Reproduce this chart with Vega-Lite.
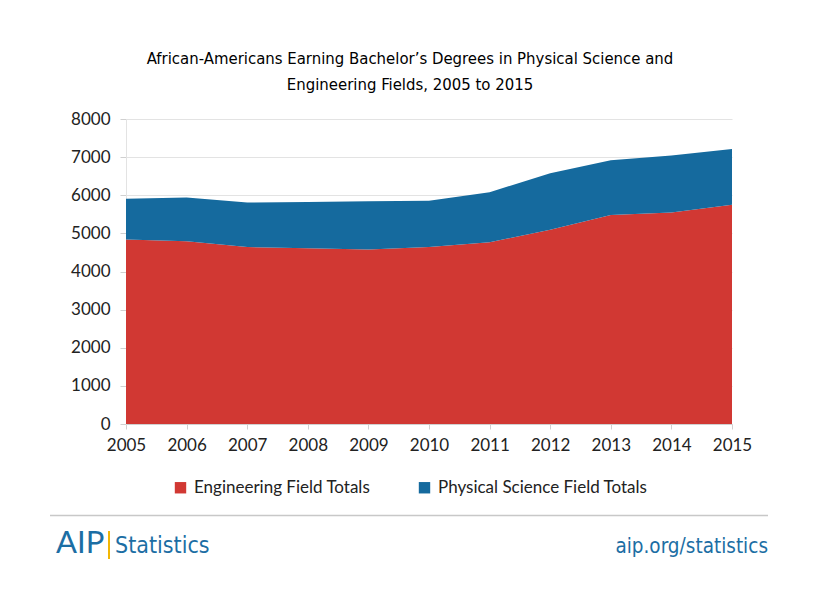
{
  "$schema": "https://vega.github.io/schema/vega-lite/v6.json",
  "width": 606,
  "height": 305,
  "autosize": {"type": "none"},
  "padding": {"left": 126, "top": 119, "right": 88, "bottom": 172},
  "background": "white",
  "config": {"view": {"stroke": null}},
  "title": {
    "text": ["African-Americans Earning Bachelor’s Degrees in Physical Science and", "Engineering Fields, 2005 to 2015"],
    "anchor": "middle",
    "dx": -19,
    "offset": 16,
    "font": "Liberation Sans Narrow, DejaVu Sans Condensed, Roboto, sans-serif",
    "fontSize": 16.6,
    "fontWeight": 500,
    "lineHeight": 26,
    "color": "#000000"
  },
  "layer": [
    {
      "data": {
        "values": [
          {"year": 2005, "series": "Engineering Field Totals", "value": 4840},
          {"year": 2006, "series": "Engineering Field Totals", "value": 4795},
          {"year": 2007, "series": "Engineering Field Totals", "value": 4640},
          {"year": 2008, "series": "Engineering Field Totals", "value": 4610},
          {"year": 2009, "series": "Engineering Field Totals", "value": 4575},
          {"year": 2010, "series": "Engineering Field Totals", "value": 4640},
          {"year": 2011, "series": "Engineering Field Totals", "value": 4770},
          {"year": 2012, "series": "Engineering Field Totals", "value": 5095},
          {"year": 2013, "series": "Engineering Field Totals", "value": 5485},
          {"year": 2014, "series": "Engineering Field Totals", "value": 5545},
          {"year": 2015, "series": "Engineering Field Totals", "value": 5750},
          {"year": 2005, "series": "Physical Science Field Totals", "value": 1065},
          {"year": 2006, "series": "Physical Science Field Totals", "value": 1145},
          {"year": 2007, "series": "Physical Science Field Totals", "value": 1170},
          {"year": 2008, "series": "Physical Science Field Totals", "value": 1210},
          {"year": 2009, "series": "Physical Science Field Totals", "value": 1270},
          {"year": 2010, "series": "Physical Science Field Totals", "value": 1215},
          {"year": 2011, "series": "Physical Science Field Totals", "value": 1310},
          {"year": 2012, "series": "Physical Science Field Totals", "value": 1485},
          {"year": 2013, "series": "Physical Science Field Totals", "value": 1435},
          {"year": 2014, "series": "Physical Science Field Totals", "value": 1495},
          {"year": 2015, "series": "Physical Science Field Totals", "value": 1465}
        ]
      },
      "mark": {"type": "area", "opacity": 1},
      "encoding": {
        "x": {
          "field": "year",
          "type": "quantitative",
          "scale": {"domain": [2005, 2015], "nice": false, "zero": false},
          "axis": {
            "title": null,
            "values": [2005, 2006, 2007, 2008, 2009, 2010, 2011, 2012, 2013, 2014, 2015],
            "format": "d",
            "grid": false,
            "labelFont": "Lato",
            "labelFontSize": 17,
            "labelColor": "#222222",
            "labelPadding": 8,
            "domainColor": "#d0d0d0",
            "tickColor": "#d0d0d0",
            "tickSize": 5,
            "labelFlush": false
          }
        },
        "y": {
          "field": "value",
          "type": "quantitative",
          "stack": "zero",
          "scale": {"domain": [0, 8000], "nice": false},
          "axis": {
            "title": null,
            "values": [0, 1000, 2000, 3000, 4000, 5000, 6000, 7000, 8000],
            "format": "d",
            "labelFont": "Lato",
            "labelFontSize": 17,
            "labelColor": "#222222",
            "labelPadding": 10,
            "gridColor": "#e3e3e3",
            "domainColor": "#e3e3e3",
            "tickColor": "#d0d0d0",
            "tickSize": 6
          }
        },
        "color": {
          "field": "series",
          "type": "nominal",
          "scale": {
            "domain": ["Engineering Field Totals", "Physical Science Field Totals"],
            "range": ["#d13833", "#156a9e"]
          },
          "legend": {
            "title": null,
            "orient": "none",
            "legendX": 46,
            "legendY": 360,
            "direction": "horizontal",
            "symbolType": "square",
            "symbolSize": 130,
            "symbolStrokeWidth": 0,
            "symbolOpacity": 1,
            "labelFont": "Lato",
            "labelFontSize": 17,
            "labelLimit": 400,
            "labelColor": "#222222",
            "labelOffset": 5,
            "columnPadding": 45
          }
        },
        "order": {"field": "series", "sort": "ascending"}
      }
    },
    {
      "data": {"values": [{"label": "footer"}]},
      "mark": {"type": "rule", "color": "#c8c8c8", "strokeWidth": 1.5},
      "encoding": {
        "x": {"value": -76},
        "x2": {"value": 642},
        "y": {"value": 396.5}
      }
    },
    {
      "data": {"values": [{"label": "bar"}]},
      "mark": {"type": "rule", "color": "#f2b705", "strokeWidth": 2},
      "encoding": {
        "x": {"value": -17},
        "y": {"value": 412},
        "y2": {"value": 440}
      }
    },
    {
      "data": {"values": [{"label": "AIP"}]},
      "mark": {"type": "text", "align": "left", "baseline": "alphabetic", "font": "Lato", "fontSize": 31, "fontWeight": "normal", "color": "#1c6ea4"},
      "encoding": {
        "x": {"value": -70},
        "y": {"value": 434},
        "text": {"field": "label"}
      }
    },
    {
      "data": {"values": [{"label": "Statistics"}]},
      "mark": {"type": "text", "align": "left", "baseline": "alphabetic", "font": "Liberation Sans Narrow, DejaVu Sans Condensed, Roboto, sans-serif", "fontSize": 23, "color": "#1c6ea4"},
      "encoding": {
        "x": {"value": -11},
        "y": {"value": 434},
        "text": {"field": "label"}
      }
    },
    {
      "data": {"values": [{"label": "aip.org/statistics"}]},
      "mark": {"type": "text", "align": "right", "baseline": "alphabetic", "font": "Liberation Sans Narrow, DejaVu Sans Condensed, Roboto, sans-serif", "fontSize": 20.5, "color": "#1c6ea4"},
      "encoding": {
        "x": {"value": 642},
        "y": {"value": 434},
        "text": {"field": "label"}
      }
    }
  ]
}
